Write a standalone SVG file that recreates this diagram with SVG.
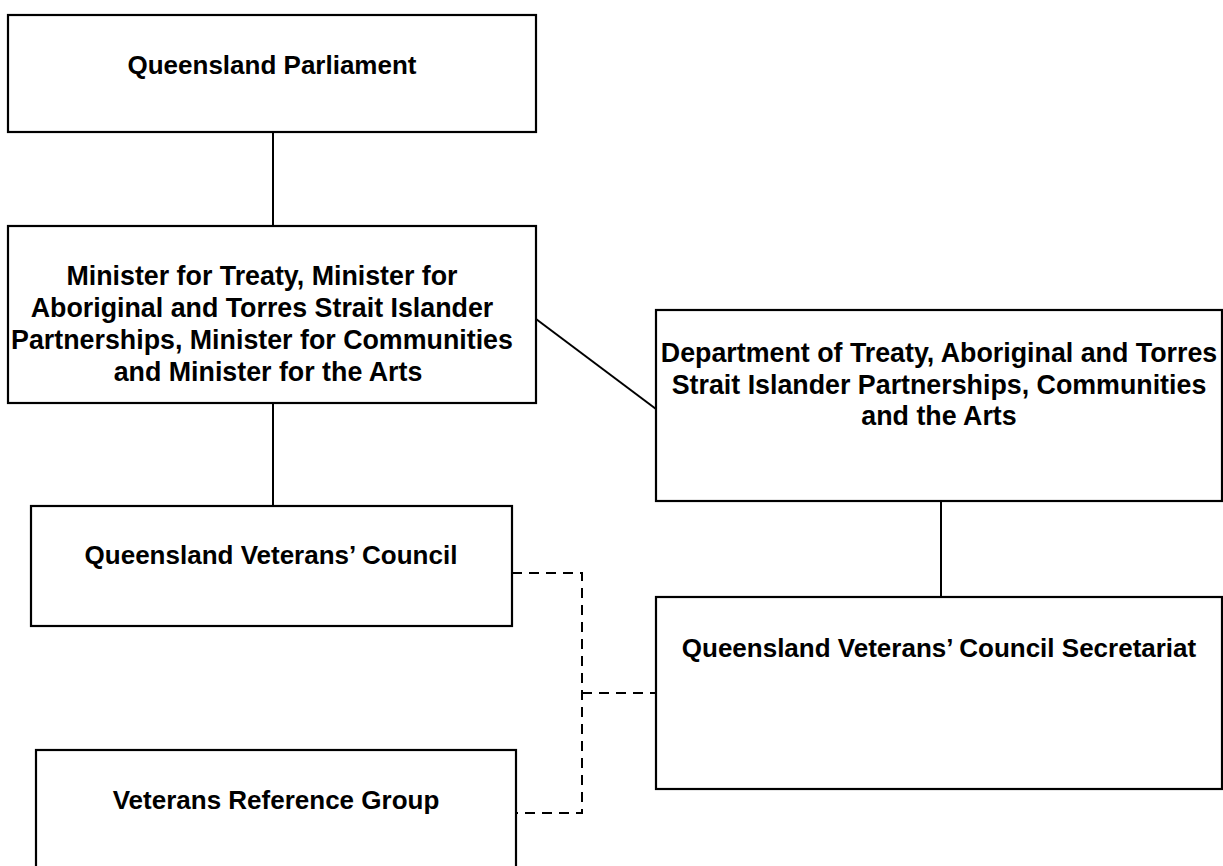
<svg xmlns="http://www.w3.org/2000/svg" width="1223" height="866" viewBox="0 0 1223 866">
<style>
.box{fill:#fff;stroke:#000;stroke-width:2.2}
.t{font-family:"Liberation Sans",Arial,sans-serif;font-weight:bold;font-size:26px;fill:#000;text-anchor:middle}
.w{font-size:26.8px}
.c{fill:none;stroke:#000;stroke-width:2}
.d{fill:none;stroke:#000;stroke-width:2;stroke-dasharray:10 7}
</style>
<rect width="1223" height="866" fill="#fff"/>
<g id="connectors">
<line class="c" x1="273" y1="132" x2="273" y2="226"/>
<line class="c" x1="273" y1="403" x2="273" y2="506"/>
<line class="c" x1="536" y1="319" x2="656" y2="409"/>
<line class="c" x1="941" y1="501" x2="941" y2="597"/>
<polyline class="d" points="512,573 582,573 582,813 516,813"/>
<line class="d" x1="582" y1="693" x2="656" y2="693"/>
</g>
<g id="parliament">
<rect class="box" x="8" y="15" width="528" height="117"/>
<text class="t" x="272" y="74">Queensland Parliament</text>
</g>
<g id="minister">
<rect class="box" x="8" y="226" width="528" height="177"/>
<text class="t w" x="262" y="285">Minister for Treaty, Minister for</text>
<text class="t w" x="262" y="317">Aboriginal and Torres Strait Islander</text>
<text class="t w" x="262" y="349">Partnerships, Minister for Communities</text>
<text class="t w" x="268" y="381">and Minister for the Arts</text>
</g>
<g id="department">
<rect class="box" x="656" y="310" width="566" height="191"/>
<text class="t w" x="939" y="362">Department of Treaty, Aboriginal and Torres</text>
<text class="t w" x="939" y="394">Strait Islander Partnerships, Communities</text>
<text class="t w" x="939" y="425">and the Arts</text>
</g>
<g id="qvc">
<rect class="box" x="31" y="506" width="481" height="120"/>
<text class="t" x="271" y="564">Queensland Veterans’ Council</text>
</g>
<g id="secretariat">
<rect class="box" x="656" y="597" width="566" height="192"/>
<text class="t" x="939" y="657">Queensland Veterans’ Council Secretariat</text>
</g>
<g id="vrg">
<rect class="box" x="36" y="750" width="480" height="130"/>
<text class="t" x="276" y="809">Veterans Reference Group</text>
</g>
</svg>
